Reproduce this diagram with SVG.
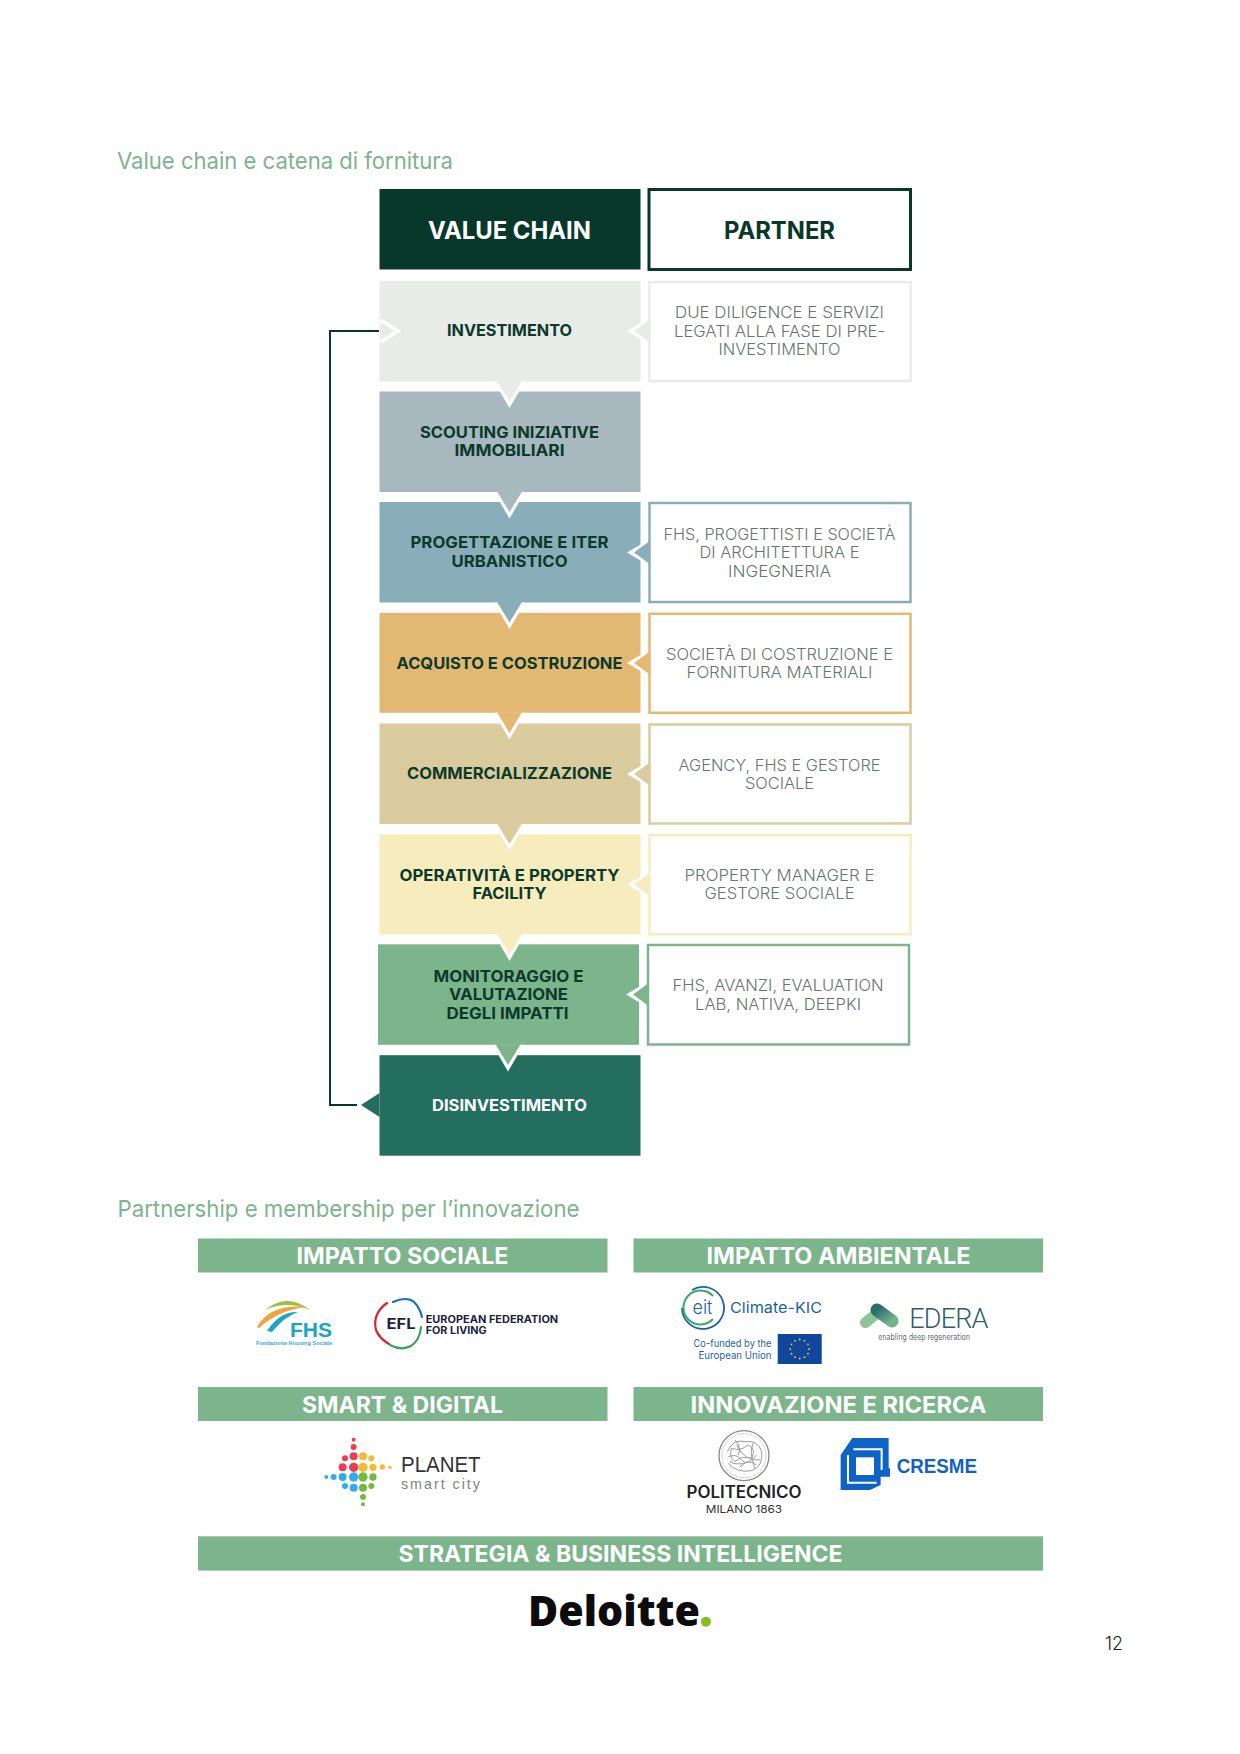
<svg xmlns="http://www.w3.org/2000/svg" width="1240" height="1754" viewBox="0 0 1240 1754">
<defs><linearGradient id="ed" x1="0" y1="0" x2="1" y2="1"><stop offset="0" stop-color="#2b6f6c"/><stop offset="1" stop-color="#74b48c"/></linearGradient></defs>
<style>
text{font-family:"Inter","Noto Sans","Liberation Sans",sans-serif}
.h{font-size:23px;font-weight:400;fill:#7cb48b}
.vc{font-size:24px;font-weight:700;text-anchor:middle}
.l{font-size:16px;font-weight:700;fill:#0b3a2b;text-anchor:middle}
.p{font-size:16px;font-weight:300;fill:#64766f;text-anchor:middle}
.b{font-size:23px;font-weight:700;fill:#fff;text-anchor:middle}
.bar{fill:#7cb48b}
.pb{fill:#fff;stroke-width:2.500}
.w{fill:#fff}
.conn{fill:none;stroke:#07382a;stroke-width:2}
</style>
<rect width="1240" height="1754" fill="#fff"/>
<text class="h" x="117" y="168.500" textLength="336" lengthAdjust="spacingAndGlyphs">Value chain e catena di fornitura</text>

<g id="connectors">
<path class="conn" d="M379 331H330V1105H357"/>
</g>

<g id="header-value-chain"><rect x="379.500" y="189" width="261" height="80.500" fill="#07382a"/><text class="vc" x="509.500" y="238.500" fill="#fff" textLength="163" lengthAdjust="spacingAndGlyphs">VALUE CHAIN</text></g>
<g id="header-partner"><rect x="649" y="189.500" width="261.500" height="80" fill="#fff" stroke="#07382a" stroke-width="3"/><text class="vc" x="779.500" y="238.500" fill="#07382a" textLength="111" lengthAdjust="spacingAndGlyphs">PARTNER</text></g>

<g id="row-investimento"><rect x="379.500" y="281" width="261" height="100.500" fill="#e8ebe8"/>
<path d="M380.500 320L398 331L380.500 342" fill="none" stroke="#fff" stroke-width="3.500"/>
<text class="l" x="509.500" y="336" textLength="125" lengthAdjust="spacingAndGlyphs">INVESTIMENTO</text></g>
<g id="row-scouting"><rect x="379.500" y="391.500" width="261" height="100.500" fill="#a7b8bf"/>
<text class="l" x="509.500" y="437.500" textLength="179" lengthAdjust="spacingAndGlyphs">SCOUTING INIZIATIVE</text>
<text class="l" x="509.500" y="456" textLength="110" lengthAdjust="spacingAndGlyphs">IMMOBILIARI</text></g>
<g id="row-progettazione"><rect x="379.500" y="502" width="261" height="100.500" fill="#89aeba"/>
<text class="l" x="509.500" y="548" textLength="198" lengthAdjust="spacingAndGlyphs">PROGETTAZIONE E ITER</text>
<text class="l" x="509.500" y="566.500" textLength="116" lengthAdjust="spacingAndGlyphs">URBANISTICO</text></g>
<g id="row-acquisto"><rect x="379.500" y="612.800" width="261" height="100" fill="#e3b873"/>
<text class="l" x="509.500" y="668.500" textLength="226" lengthAdjust="spacingAndGlyphs">ACQUISTO E COSTRUZIONE</text></g>
<g id="row-commercializzazione"><rect x="379.500" y="723.500" width="261" height="100.500" fill="#dacb9f"/>
<text class="l" x="509.500" y="779" textLength="205" lengthAdjust="spacingAndGlyphs">COMMERCIALIZZAZIONE</text></g>
<g id="row-operativita"><rect x="379.500" y="834.300" width="261" height="100" fill="#f7ecbd"/>
<text class="l" x="509.500" y="880.500" textLength="220" lengthAdjust="spacingAndGlyphs">OPERATIVITÀ E PROPERTY</text>
<text class="l" x="509.500" y="899" textLength="74" lengthAdjust="spacingAndGlyphs">FACILITY</text></g>
<g id="row-monitoraggio"><rect x="378" y="944.300" width="261" height="100.500" fill="#7cb48b"/>
<text class="l" x="508.500" y="981.500" textLength="150" lengthAdjust="spacingAndGlyphs">MONITORAGGIO E</text>
<text class="l" x="508.500" y="1000" textLength="119" lengthAdjust="spacingAndGlyphs">VALUTAZIONE</text>
<text class="l" x="507.500" y="1018.500" textLength="122" lengthAdjust="spacingAndGlyphs">DEGLI IMPATTI</text></g>
<g id="row-disinvestimento"><rect x="379.500" y="1055.200" width="261" height="100.500" fill="#236e5f"/>
<path d="M361 1105L379.500 1093V1117Z" fill="#236e5f"/>
<text class="l" x="509.500" y="1110.500" style="fill:#fff" textLength="155" lengthAdjust="spacingAndGlyphs">DISINVESTIMENTO</text></g>

<g id="arrows-down">
<path class="w" d="M494 381.500H525L509.500 408Z"/><path d="M497 381H522L509.500 401.500Z" fill="#e8ebe8"/>
<path class="w" d="M494 492H525L509.500 518.500Z"/><path d="M497 491.500H522L509.500 512Z" fill="#a7b8bf"/>
<path class="w" d="M494 602.500H525L509.500 629Z"/><path d="M497 602H522L509.500 622.500Z" fill="#89aeba"/>
<path class="w" d="M494 712.800H525L509.500 739.500Z"/><path d="M497 712.300H522L509.500 733Z" fill="#e3b873"/>
<path class="w" d="M494 824H525L509.500 850.500Z"/><path d="M497 823.500H522L509.500 844Z" fill="#dacb9f"/>
<path class="w" d="M494 934.300H525L509.500 961Z"/><path d="M497 933.800H522L509.500 954.500Z" fill="#f7ecbd"/>
<path class="w" d="M492.500 1044.800H523.500L508 1071.500Z"/><path d="M495.500 1044.300H520.500L508 1065Z" fill="#7cb48b"/>
</g>

<g id="arrows-left">
<path class="w" d="M649 318L627 331L649 344Z"/><path d="M649 320L634 331L649 342Z" fill="#e8ebe8"/>
<path class="w" d="M649 539.500L627 552.500L649 565.500Z"/><path d="M649 541.500L634 552.500L649 563.500Z" fill="#89aeba"/>
<path class="w" d="M649 650L627 663L649 676Z"/><path d="M649 652L634 663L649 674Z" fill="#e3b873"/>
<path class="w" d="M649 761L627 774L649 787Z"/><path d="M649 763L634 774L649 785Z" fill="#dacb9f"/>
<path class="w" d="M649 871.500L627 884.500L649 897.500Z"/><path d="M649 873.500L634 884.500L649 895.500Z" fill="#f7ecbd"/>
<path class="w" d="M648 981.500L626 994.500L648 1007.500Z"/><path d="M648 983.500L633 994.500L648 1005.500Z" fill="#7cb48b"/>
</g>

<g id="partner-due-diligence"><rect class="pb" x="649.500" y="282" width="261" height="99" stroke="#e8ebe8"/>
<text class="p" x="779.500" y="318" textLength="209" lengthAdjust="spacingAndGlyphs">DUE DILIGENCE E SERVIZI</text>
<text class="p" x="779.500" y="336.500" textLength="211" lengthAdjust="spacingAndGlyphs">LEGATI ALLA FASE DI PRE-</text>
<text class="p" x="779.500" y="355" textLength="122" lengthAdjust="spacingAndGlyphs">INVESTIMENTO</text></g>
<g id="partner-fhs"><rect class="pb" x="649.500" y="503" width="261" height="99" stroke="#89aeba"/>
<text class="p" x="779.500" y="539.500" textLength="232" lengthAdjust="spacingAndGlyphs">FHS, PROGETTISTI E SOCIETÀ</text>
<text class="p" x="779.500" y="558" textLength="160" lengthAdjust="spacingAndGlyphs">DI ARCHITETTURA E</text>
<text class="p" x="779.500" y="576.500" textLength="103" lengthAdjust="spacingAndGlyphs">INGEGNERIA</text></g>
<g id="partner-costruzione"><rect class="pb" x="649.500" y="613.800" width="261" height="99" stroke="#e3b873"/>
<text class="p" x="779.500" y="659.500" textLength="227" lengthAdjust="spacingAndGlyphs">SOCIETÀ DI COSTRUZIONE E</text>
<text class="p" x="779.500" y="678" textLength="186" lengthAdjust="spacingAndGlyphs">FORNITURA MATERIALI</text></g>
<g id="partner-agency"><rect class="pb" x="649.500" y="724.500" width="261" height="99" stroke="#dacb9f"/>
<text class="p" x="779.500" y="770.500" textLength="202" lengthAdjust="spacingAndGlyphs">AGENCY, FHS E GESTORE</text>
<text class="p" x="779.500" y="789" textLength="69" lengthAdjust="spacingAndGlyphs">SOCIALE</text></g>
<g id="partner-property"><rect class="pb" x="649.500" y="835.300" width="261" height="99" stroke="#f7ecbd"/>
<text class="p" x="779.500" y="880.500" textLength="190" lengthAdjust="spacingAndGlyphs">PROPERTY MANAGER E</text>
<text class="p" x="779.500" y="899" textLength="150" lengthAdjust="spacingAndGlyphs">GESTORE SOCIALE</text></g>
<g id="partner-avanzi"><rect class="pb" x="648" y="945" width="261" height="99.500" stroke="#7cb48b"/>
<text class="p" x="778" y="990.500" textLength="211" lengthAdjust="spacingAndGlyphs">FHS, AVANZI, EVALUATION</text>
<text class="p" x="778" y="1009.500" textLength="166" lengthAdjust="spacingAndGlyphs">LAB, NATIVA, DEEPKI</text></g>

<text class="h" x="117.500" y="1216.500" textLength="462" lengthAdjust="spacingAndGlyphs">Partnership e membership per l’innovazione</text>

<g id="bar-impatto-sociale"><rect class="bar" x="198" y="1238.500" width="409.500" height="34"/><text class="b" x="402.500" y="1264" textLength="212" lengthAdjust="spacingAndGlyphs">IMPATTO SOCIALE</text></g>
<g id="bar-impatto-ambientale"><rect class="bar" x="633.500" y="1238.500" width="409.500" height="34"/><text class="b" x="838.500" y="1264" textLength="264" lengthAdjust="spacingAndGlyphs">IMPATTO AMBIENTALE</text></g>
<g id="bar-smart-digital"><rect class="bar" x="198" y="1387" width="409.500" height="34"/><text class="b" x="402.500" y="1413" textLength="201" lengthAdjust="spacingAndGlyphs">SMART &amp; DIGITAL</text></g>
<g id="bar-innovazione"><rect class="bar" x="633.500" y="1387" width="409.500" height="34"/><text class="b" x="838.500" y="1413" textLength="296" lengthAdjust="spacingAndGlyphs">INNOVAZIONE E RICERCA</text></g>
<g id="bar-strategia"><rect class="bar" x="198" y="1536.300" width="845" height="34.300"/><text class="b" x="620.500" y="1562" textLength="444" lengthAdjust="spacingAndGlyphs">STRATEGIA &amp; BUSINESS INTELLIGENCE</text></g>

<g id="logo-fhs">
<path d="M265 1310Q287 1292 310 1310Q287 1300 265 1310Z" fill="#9fc03c"/>
<path d="M257 1327Q270 1303 308 1307Q280 1309 259 1328Z" fill="#f2a33a"/>
<path d="M267 1331Q280 1311 298 1312Q284 1317 272 1332Z" fill="#1aa5c4"/>
<text x="290" y="1336.500" font-size="21" font-weight="700" fill="#1aa5c4" textLength="42" lengthAdjust="spacingAndGlyphs" style="font-family:'Liberation Sans',sans-serif">FHS</text>
<text x="256" y="1345" font-size="5.500" font-weight="700" fill="#36a9c9" textLength="76" lengthAdjust="spacingAndGlyphs" style="font-family:'Liberation Sans',sans-serif">Fondazione Housing Sociale</text>
</g>
<g id="logo-efl" fill="none" stroke-width="2.200" stroke-linecap="round">
<path d="M387 1303Q372 1314 376 1330Q379 1338 389 1344" stroke="#d3272e"/>
<path d="M393 1302Q407 1296 414 1302Q420 1308 422 1317" stroke="#1f6fc0"/>
<path d="M421 1327Q420 1340 411 1346Q401 1351 390 1345" stroke="#3aa35a"/>
<text x="386.500" y="1329" font-size="15" font-weight="700" fill="#1c1f3f" stroke="none" textLength="29" lengthAdjust="spacingAndGlyphs">EFL</text>
<text x="425.700" y="1323" font-size="10" font-weight="700" fill="#1c1f3f" stroke="none" textLength="132.500" lengthAdjust="spacingAndGlyphs">EUROPEAN FEDERATION</text>
<text x="425.700" y="1333.700" font-size="10" font-weight="700" fill="#1c1f3f" stroke="none" textLength="61" lengthAdjust="spacingAndGlyphs">FOR LIVING</text>
</g>
<g id="logo-climate-kic">
<path d="M692 1290A21 21 0 1 1 682 1308" fill="none" stroke="#1d5fa8" stroke-width="1.800"/>
<path d="M713 1296A17 17 0 1 0 713 1319" fill="none" stroke="#3aa866" stroke-width="2"/>
<text x="692.500" y="1314" font-size="19" font-weight="300" fill="#1d5fa8" textLength="20" lengthAdjust="spacingAndGlyphs">eit</text>
<text x="730" y="1312.700" font-size="15" font-weight="400" fill="#1d5fa8" textLength="92" lengthAdjust="spacingAndGlyphs">Climate-KIC</text>
<text x="771.500" y="1346.700" font-size="10.500" fill="#1f5fa8" text-anchor="end" textLength="78" lengthAdjust="spacingAndGlyphs">Co-funded by the</text>
<text x="771.500" y="1358.700" font-size="10.500" fill="#1f5fa8" text-anchor="end" textLength="73" lengthAdjust="spacingAndGlyphs">European Union</text>
<rect x="777.700" y="1334" width="44" height="30" fill="#10479c"/>
<g fill="#f4d23c"><circle cx="799.700" cy="1339.500" r=".9"/><circle cx="804.500" cy="1340.800" r=".9"/><circle cx="808" cy="1344.300" r=".9"/><circle cx="809.200" cy="1349" r=".9"/><circle cx="808" cy="1353.700" r=".9"/><circle cx="804.500" cy="1357.200" r=".9"/><circle cx="799.700" cy="1358.500" r=".9"/><circle cx="795" cy="1357.200" r=".9"/><circle cx="791.500" cy="1353.700" r=".9"/><circle cx="790.200" cy="1349" r=".9"/><circle cx="791.500" cy="1344.300" r=".9"/><circle cx="795" cy="1340.800" r=".9"/></g>
</g>
<g id="logo-edera">
<path d="M865.500 1322.500L875 1315" fill="none" stroke="#8fc39a" stroke-width="11" stroke-linecap="round"/>
<path d="M877 1310L892 1321" fill="none" stroke="url(#ed)" stroke-width="13" stroke-linecap="round"/>
<text x="909.300" y="1327.700" font-size="27" font-weight="300" fill="#2d5f66" textLength="79" style="font-family:'Roboto',sans-serif">EDERA</text>
<text x="878.300" y="1340" font-size="8" fill="#5a6a6a" textLength="91.700" lengthAdjust="spacingAndGlyphs" style="font-family:'DejaVu Sans',sans-serif">enabling deep regeneration</text>
</g>
<g id="logo-planet" transform="translate(190 1380) scale(.3333)">
<g fill="#ec3d50"><circle cx="491" cy="179" r="6"/><circle cx="491" cy="201" r="9"/><circle cx="491" cy="229" r="12"/><circle cx="465" cy="235" r="9"/><circle cx="458" cy="262" r="12"/><circle cx="491" cy="262" r="14"/></g>
<g fill="#f4b93a"><circle cx="519" cy="229" r="12"/><circle cx="544" cy="235" r="9"/><circle cx="519" cy="262" r="14"/><circle cx="549" cy="262" r="11"/><circle cx="577" cy="261" r="8"/><circle cx="600" cy="262" r="5"/></g>
<g fill="#34ace8"><circle cx="409" cy="291" r="6"/><circle cx="431" cy="291" r="9"/><circle cx="458" cy="291" r="12"/><circle cx="491" cy="291" r="14"/><circle cx="465" cy="318" r="9"/><circle cx="491" cy="323" r="12"/></g>
<g fill="#74b83e"><circle cx="519" cy="291" r="14"/><circle cx="549" cy="291" r="11"/><circle cx="519" cy="323" r="12"/><circle cx="544" cy="318" r="9"/><circle cx="519" cy="351" r="9"/><circle cx="519" cy="373" r="6"/></g>
<text x="633" y="275" font-size="66" fill="#333" textLength="239" lengthAdjust="spacingAndGlyphs" style="font-family:'Liberation Sans',sans-serif">PLANET</text>
<text x="633" y="328" font-size="43" fill="#808080" textLength="237" lengthAdjust="spacing" style="font-family:'Liberation Sans',sans-serif">smart city</text>
</g>
<g id="logo-polimi" transform="translate(620 1380) scale(.3333)">
<circle cx="372" cy="227" r="75" fill="#fff" stroke="#8a8a8a" stroke-width="4"/>
<circle cx="372" cy="227" r="66" fill="none" stroke="#a8a8a8" stroke-width="3" stroke-dasharray="3 3"/>
<path d="M322 215Q340 175 375 185Q415 180 425 215Q430 260 395 272Q350 280 325 250M335 205Q360 215 385 195Q410 205 395 235Q365 225 345 245Q325 230 335 205M350 195Q375 245 420 240M360 260Q385 235 410 255M325 230Q350 220 365 240T410 225M345 180Q365 200 355 225M400 190Q385 215 405 265M330 245Q345 255 375 250" fill="none" stroke="#9a9a9a" stroke-width="3"/>
<text x="372" y="355" font-size="50" font-weight="600" fill="#222" text-anchor="middle" textLength="345" lengthAdjust="spacingAndGlyphs">POLITECNICO</text>
<text x="372" y="400" font-size="33" fill="#333" text-anchor="middle" textLength="229" lengthAdjust="spacingAndGlyphs">MILANO 1863</text>
</g>
<g id="logo-cresme" transform="translate(620 1380) scale(.3333)">
<path d="M697 174H806V265H810V290H782V315L750 330H662V225Z" fill="#0f62c6"/>
<path d="M708 232H762V285H708Z" fill="#fff"/>
<path d="M684 225V308H770M700 208H785V270" fill="none" stroke="#fff" stroke-width="6"/>
<text x="830" y="280" font-size="58" font-weight="700" fill="#1162c4" textLength="241" lengthAdjust="spacingAndGlyphs" style="font-family:'Liberation Sans',sans-serif">CRESME</text>
</g>
<g id="logo-deloitte">
<text x="528" y="1625.700" font-size="43" font-weight="800" fill="#0c0c0c" textLength="172" lengthAdjust="spacingAndGlyphs" style="font-family:'Open Sans','Liberation Sans',sans-serif">Deloitte</text>
<circle cx="706" cy="1621.700" r="5" fill="#86bc25"/>
</g>
<text x="1105" y="1650" font-size="18" font-weight="300" fill="#222" textLength="18" lengthAdjust="spacingAndGlyphs">12</text>
</svg>
